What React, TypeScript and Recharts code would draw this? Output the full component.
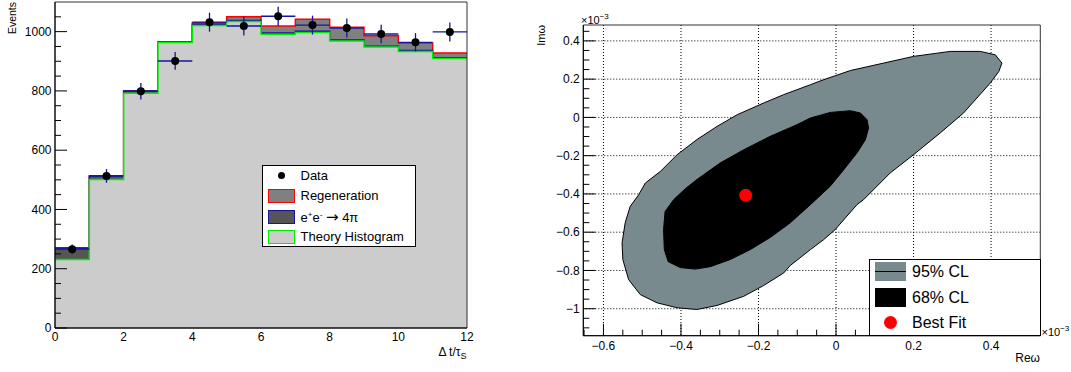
import React from "react";
import {
  ComposedChart,
  ScatterChart,
  Area,
  Scatter,
  XAxis,
  YAxis,
  ErrorBar,
  CartesianGrid,
  ReferenceArea,
} from "recharts";

// ---------------- Left panel data ----------------
const binEdges = [0, 1, 2, 3, 4, 5, 6, 7, 8, 9, 10, 11, 12];
const binCenters = [0.5, 1.5, 2.5, 3.5, 4.5, 5.5, 6.5, 7.5, 8.5, 9.5, 10.5, 11.5];
const theoryCounts = [231, 501, 792, 963, 1021, 1034, 991, 997, 968, 948, 933, 909];
const fourPiCounts = [39, 12, 8, 2, 4, 4, 4, 4, 4, 3, 3, 3];
const regenCounts = [0, 0, 0, 0, 5, 12, 24, 41, 43, 35, 26, 16];
const dataCounts = [266, 513, 799, 901, 1032, 1019, 1052, 1022, 1012, 992, 964, 999];
const dataErrors = [16, 23, 28, 30, 32, 32, 32, 32, 32, 31, 31, 32];
const leftXTickLabels = [0, 2, 4, 6, 8, 10, 12];
const leftYTickLabels = [0, 200, 400, 600, 800, 1000];

// ---------------- Right panel data (x10^-3) ----------------
const cl95Re = [
  -0.552, -0.544, -0.531, -0.509, -0.492, -0.453, -0.41, -0.359, -0.307, -0.255, -0.187, -0.135,
  -0.066, -0.032, 0.037, 0.123, 0.2, 0.295, 0.372, 0.411, 0.428, 0.42, 0.398, 0.329, 0.269, 0.2,
  0.14, 0.071, 0.054, -0.002, -0.032, -0.066, -0.118, -0.135, -0.187, -0.238, -0.307, -0.359,
  -0.41, -0.462, -0.505, -0.535, -0.55,
];
const cl95Im = [
  -0.656, -0.551, -0.465, -0.404, -0.343, -0.282, -0.195, -0.116, -0.047, 0.014, 0.075, 0.119,
  0.171, 0.197, 0.245, 0.284, 0.319, 0.345, 0.345, 0.327, 0.284, 0.24, 0.18, 0.023, -0.081, -0.195,
  -0.29, -0.43, -0.456, -0.586, -0.639, -0.691, -0.774, -0.813, -0.879, -0.935, -0.983, -1.004,
  -0.995, -0.969, -0.926, -0.848, -0.743,
];
const cl68Re = [
  -0.445, -0.441, -0.419, -0.389, -0.359, -0.299, -0.238, -0.17, -0.101, -0.066, -0.015, 0.037,
  0.063, 0.08, 0.084, 0.076, 0.054, 0.02, -0.015, -0.066, -0.118, -0.17, -0.221, -0.273, -0.324,
  -0.363, -0.402, -0.433, -0.443,
];
const cl68Im = [
  -0.586, -0.492, -0.43, -0.373, -0.325, -0.238, -0.169, -0.099, -0.038, -0.003, 0.026, 0.035,
  0.023, -0.012, -0.055, -0.116, -0.186, -0.273, -0.36, -0.456, -0.551, -0.628, -0.691, -0.743,
  -0.78, -0.793, -0.785, -0.754, -0.691,
];
const bestFitRe = [-0.233];
const bestFitIm = [-0.407];
const rightXTickLabels = [-0.6, -0.4, -0.2, 0, 0.2, 0.4];
const rightYTickLabels = [-1, -0.8, -0.6, -0.4, -0.2, 0, 0.2, 0.4];

// ---------------- derived tables ----------------
const histTable = binEdges.map((x, i) => {
  const b = Math.min(i, theoryCounts.length - 1);
  return {
    x,
    theory: theoryCounts[b],
    mid: theoryCounts[b] + fourPiCounts[b],
    total: theoryCounts[b] + fourPiCounts[b] + regenCounts[b],
  };
});
const pointTable = binCenters.map((x, i) => ({ x, y: dataCounts[i], ex: 0.5, ey: dataErrors[i] }));
const cl95Table = cl95Re.map((x, i) => ({ x, y: cl95Im[i] }));
const cl68Table = cl68Re.map((x, i) => ({ x, y: cl68Im[i] }));
const bestTable = bestFitRe.map((x, i) => ({ x, y: bestFitIm[i] }));

function stepTicks(lo: number, hi: number, step: number) {
  const out: number[] = [];
  const n = Math.round((hi - lo) / step);
  for (let i = 0; i <= n; i++) out.push(Math.round((lo + i * step) * 1000) / 1000);
  return out;
}
const leftYTicks = stepTicks(0, 1050, 50);
const rightXTicks = stepTicks(-0.65, 0.5, 0.05);
const rightYTicks = stepTicks(-1.1, 0.45, 0.05);

const FONT = "'Liberation Sans', Arial, Helvetica, sans-serif";
const BLUE = "#1414a0";

const isMajor = (v: number, labels: number[]) => labels.some((l) => Math.abs(l - v) < 1e-6);
const fmt = (v: number) => (v < 0 ? "\u2212" + String(Math.abs(v)) : String(v));

const LeftYTick = (props: any) => {
  const { x, y, payload } = props;
  const v = payload.value;
  const major = isMajor(v, leftYTickLabels);
  const ax = x + 3.5;
  return (
    <g>
      <line x1={ax} x2={ax + (major ? 12 : 6)} y1={y} y2={y} stroke="#000" strokeWidth={1} />
      {major && (
        <text x={x} y={y} dy={4.3} textAnchor="end" fontSize={12} fontFamily={FONT} fill="#000">
          {v}
        </text>
      )}
    </g>
  );
};

const LeftXTick = (props: any) => {
  const { x, y, payload } = props;
  return (
    <text x={x} y={y} dy={9} textAnchor="middle" fontSize={12} fontFamily={FONT} fill="#000">
      {payload.value}
    </text>
  );
};

const RightYTick = (props: any) => {
  const { x, y, payload } = props;
  const v = payload.value;
  const major = isMajor(v, rightYTickLabels);
  const ax = x + 3.5;
  return (
    <g>
      <line x1={ax} x2={ax + (major ? 12 : 6)} y1={y} y2={y} stroke="#000" strokeWidth={1} />
      {major && (
        <text x={x} y={y} dy={4.3} textAnchor="end" fontSize={12} fontFamily={FONT} fill="#000">
          {fmt(v)}
        </text>
      )}
    </g>
  );
};

const RightXTick = (props: any) => {
  const { x, y, payload } = props;
  const v = payload.value;
  const major = isMajor(v, rightXTickLabels);
  const ay = y - 5;
  return (
    <g>
      <line x1={x} x2={x} y1={ay} y2={ay - (major ? 12 : 6)} stroke="#000" strokeWidth={1} />
      {major && (
        <text x={x} y={y} dy={9} textAnchor="middle" fontSize={12} fontFamily={FONT} fill="#000">
          {fmt(v)}
        </text>
      )}
    </g>
  );
};

const Swatch = ({ fill, border, line }: { fill: string; border?: string; line?: boolean }) => (
  <div
    style={{
      position: "relative",
      width: 27,
      height: 14,
      background: fill,
      border: border ? `1.5px solid ${border}` : "none",
      boxSizing: "border-box",
    }}
  >
    {line && (
      <div style={{ position: "absolute", left: 0, right: 0, top: "50%", height: 1, background: "#000" }} />
    )}
  </div>
);

export default function App() {
  return (
    <div style={{ position: "absolute", left: 0, top: 0, width: 1071, height: 372, background: "#fff", fontFamily: FONT }}>
      {/* Left panel */}
      <div style={{ position: "absolute", left: 0, top: 0 }}>
        <ComposedChart
          width={480}
          height={372}
          data={histTable}
          margin={{ top: 2, right: 13, bottom: 14, left: 10 }}
        >
          <XAxis
            dataKey="x"
            type="number"
            domain={[0, 12]}
            ticks={leftXTickLabels}
            interval={0}
            tick={<LeftXTick />}
            tickLine={false}
            tickSize={0}
            tickMargin={4}
            height={30}
            axisLine={{ stroke: "#000" }}
            allowDataOverflow
          />
          <YAxis
            type="number"
            domain={[0, 1100]}
            ticks={leftYTicks}
            interval={0}
            tick={<LeftYTick />}
            tickLine={false}
            tickSize={0}
            tickMargin={3.5}
            width={45}
            axisLine={{ stroke: "#000" }}
            allowDataOverflow
          />
          <Area
            type="stepAfter"
            dataKey="total"
            stroke="#ff0000"
            strokeWidth={1.5}
            fill="#808080"
            fillOpacity={1}
            dot={false}
            activeDot={false}
            isAnimationActive={false}
          />
          <Area
            type="stepAfter"
            dataKey="mid"
            stroke={BLUE}
            strokeWidth={1.5}
            fill="#555555"
            fillOpacity={1}
            dot={false}
            activeDot={false}
            isAnimationActive={false}
          />
          <Area
            type="stepAfter"
            dataKey="theory"
            stroke="#00ee00"
            strokeWidth={1.5}
            fill="#cccccc"
            fillOpacity={1}
            dot={false}
            activeDot={false}
            isAnimationActive={false}
          />
          <ReferenceArea x1={0} x2={12} y1={0} y2={1100} fill="none" stroke="#333" strokeWidth={1} />
          <Scatter
            data={pointTable}
            dataKey="y"
            fill="#000"
            isAnimationActive={false}
            shape={(p: any) => <circle cx={p.cx} cy={p.cy} r={4} fill="#000" />}
          >
            <ErrorBar dataKey="ey" direction="y" width={0} stroke={BLUE} strokeWidth={1.3} />
            <ErrorBar dataKey="ex" direction="x" width={0} stroke={BLUE} strokeWidth={1.3} />
          </Scatter>
        </ComposedChart>
      </div>

      {/* Right panel */}
      <div style={{ position: "absolute", left: 520, top: 0 }}>
        <ScatterChart
          width={551}
          height={372}
          margin={{ top: 25, right: 30.7, bottom: 6.3, left: 23.3 }}
        >
          <CartesianGrid
            stroke="#000"
            strokeDasharray="1 2"
            horizontalValues={rightYTickLabels}
            verticalValues={rightXTickLabels}
          />
          <XAxis
            dataKey="x"
            type="number"
            domain={[-0.652, 0.527]}
            ticks={rightXTicks}
            interval={0}
            tick={<RightXTick />}
            tickLine={false}
            tickSize={0}
            tickMargin={5}
            height={30}
            axisLine={{ stroke: "#000" }}
            allowDataOverflow
          />
          <YAxis
            dataKey="y"
            type="number"
            domain={[-1.141, 0.483]}
            ticks={rightYTicks}
            interval={0}
            tick={<RightYTick />}
            tickLine={false}
            tickSize={0}
            tickMargin={3.5}
            width={40}
            axisLine={{ stroke: "#000" }}
            allowDataOverflow
          />
          <ReferenceArea x1={-0.652} x2={0.527} y1={-1.141} y2={0.483} fill="none" stroke="#333" strokeWidth={1} />
          <Scatter
            data={cl95Table}
            fill="#788a8e"
            line={{ fill: "#788a8e", stroke: "#000", strokeWidth: 1 }}
            lineJointType="linearClosed"
            shape={() => <g />}
            isAnimationActive={false}
          />
          <Scatter
            data={cl68Table}
            fill="#000"
            line={{ fill: "#000", stroke: "#000", strokeWidth: 1 }}
            lineJointType="linearClosed"
            shape={() => <g />}
            isAnimationActive={false}
          />
          <Scatter
            data={bestTable}
            fill="#ff0000"
            shape={(p: any) => <circle cx={p.cx} cy={p.cy} r={6.5} fill="#ff0000" />}
            isAnimationActive={false}
          />
        </ScatterChart>
      </div>

      {/* Axis titles */}
      <svg
        width={1071}
        height={372}
        style={{ position: "absolute", left: 0, top: 0, pointerEvents: "none" }}
        fontFamily={FONT}
      >
        <text transform="translate(16,2) rotate(-90)" textAnchor="end" fontSize={10.5} fill="#000">
          Events
        </text>
        <text x={466.5} y={355.5} textAnchor="end" fontSize={12} fill="#000">
          {"\u0394 t/\u03c4"}
          <tspan fontSize={9} dy={3}>
            S
          </tspan>
        </text>
        <text transform="translate(545,25) rotate(-90)" textAnchor="end" fontSize={11} fill="#000">
          {"Im\u03c9"}
        </text>
        <text x={1040} y={362} textAnchor="end" fontSize={12} fill="#000">
          {"Re\u03c9"}
        </text>
        <text x={581} y={24} fontSize={11} fill="#000">
          {"\u00d710"}
          <tspan fontSize={8} dy={-5}>
            {"\u22123"}
          </tspan>
        </text>
        <text x={1041.5} y={336} fontSize={11} fill="#000">
          {"\u00d710"}
          <tspan fontSize={8} dy={-5}>
            {"\u22123"}
          </tspan>
        </text>
      </svg>

      {/* Left legend */}
      <div
        style={{
          position: "absolute",
          left: 262,
          top: 165,
          width: 154,
          height: 82,
          border: "1px solid #000",
          background: "#fff",
          boxSizing: "border-box",
          fontSize: 13,
          color: "#000",
        }}
      >
        {[
          { key: "data", label: <span>Data</span> },
          { key: "regen", label: <span>Regeneration</span> },
          {
            key: "fourpi",
            label: (
              <span>
                e<sup style={{ fontSize: 8 }}>+</sup>e<sup style={{ fontSize: 8 }}>-</sup>{" "}
                <span style={{ fontSize: 15, fontFamily: "'DejaVu Sans', sans-serif" }}>{"\u2192"}</span> 4{"\u03c0"}
              </span>
            ),
          },
          { key: "theory", label: <span>Theory Histogram</span> },
        ].map((row, i) => (
          <div
            key={row.key}
            style={{
              position: "absolute",
              left: 4.5,
              top: 1.5 + i * 20.6,
              height: 16,
              display: "flex",
              alignItems: "center",
              whiteSpace: "nowrap",
              lineHeight: "16px",
            }}
          >
            <div style={{ width: 27, height: 16, display: "flex", alignItems: "center", justifyContent: "center" }}>
              {row.key === "data" && <div style={{ width: 7, height: 7, borderRadius: "50%", background: "#000" }} />}
              {row.key === "regen" && <Swatch fill="#808080" border="#ff0000" />}
              {row.key === "fourpi" && <Swatch fill="#555555" border={BLUE} />}
              {row.key === "theory" && <Swatch fill="#cccccc" border="#00ee00" />}
            </div>
            <div style={{ marginLeft: 6 }}>{row.label}</div>
          </div>
        ))}
      </div>

      {/* Right legend */}
      <div
        style={{
          position: "absolute",
          left: 869,
          top: 259,
          width: 172,
          height: 77,
          border: "1px solid #000",
          background: "#fff",
          boxSizing: "border-box",
          fontSize: 16,
          color: "#000",
        }}
      >
        {["95% CL", "68% CL", "Best Fit"].map((label, i) => (
          <div
            key={label}
            style={{
              position: "absolute",
              left: 5,
              top: 2 + i * 25.6,
              height: 19,
              display: "flex",
              alignItems: "center",
              whiteSpace: "nowrap",
              lineHeight: "19px",
            }}
          >
            <div style={{ width: 31, height: 19, display: "flex", alignItems: "center", justifyContent: "center", position: "relative" }}>
              {i === 0 && (
                <div style={{ position: "relative", width: 31, height: 19, background: "#788a8e" }}>
                  <div style={{ position: "absolute", left: 0, right: 0, top: 9, height: 1, background: "#000" }} />
                </div>
              )}
              {i === 1 && <div style={{ width: 31, height: 19, background: "#000" }} />}
              {i === 2 && <div style={{ width: 13, height: 13, borderRadius: "50%", background: "#ff0000" }} />}
            </div>
            <div style={{ marginLeft: 6 }}>{label}</div>
          </div>
        ))}
      </div>
    </div>
  );
}
